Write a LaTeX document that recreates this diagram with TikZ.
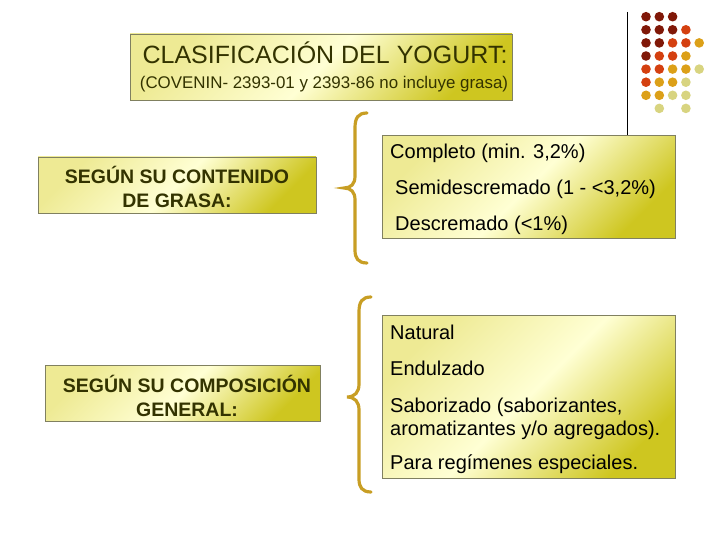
\documentclass[tikz,border=0pt]{standalone}
\usepackage{fontspec}
\setmainfont{Liberation Sans}
\usepackage{tikz}
\tikzset{>=latex}
\usetikzlibrary{positioning}

\definecolor{olivetext}{RGB}{51,51,0}
\definecolor{boxline}{RGB}{128,128,96}
\definecolor{boxlight}{RGB}{255,255,212}
\definecolor{boxedge}{RGB}{238,234,148}
\definecolor{boxdark}{RGB}{206,198,32}
\definecolor{bracegold}{RGB}{200,158,36}
\definecolor{dred}{RGB}{128,24,8}
\definecolor{ored}{RGB}{212,64,16}
\definecolor{dgold}{RGB}{220,160,24}
\definecolor{pale}{RGB}{216,212,128}

\tikzset{
  box/.style={draw=boxline, line width=0.8pt, inner sep=0pt,
    top color=boxedge, bottom color=boxdark, middle color=boxlight, shading angle=45},
  head/.style={font=\fontsize{19.5}{23.5}\selectfont\bfseries, text=olivetext, align=center, inner sep=0pt},
  item/.style={font=\fontsize{20}{23}\selectfont, anchor=base west, inner sep=0pt, align=left},
  brace/.style={draw=bracegold, line width=3.2pt, line cap=round},
}

\begin{document}
\begin{tikzpicture}[x=1pt, y=-1pt]
    \useasboundingbox (0,0) rectangle (720,540);

    % Title
    \node[box, minimum width=382, minimum height=66] (title) at (321,67) {};
    \node[font=\fontsize{25}{28}\selectfont, text=olivetext, inner sep=0pt] (titletext) at (325,53) {CLASIFICACIÓN DEL YOGURT:};
    \node[font=\fontsize{16.9}{19}\selectfont, text=olivetext, inner sep=0pt] (subtitle) at (324,84) {(COVENIN- 2393-01 y 2393-86 no incluye grasa)};

    % Left boxes
    \node[box, minimum width=278, minimum height=56] (fat) at (177,185) {};
    \node[head] (fattext) at (177,187) {SEGÚN SU CONTENIDO\\DE GRASA:};
    \node[box, minimum width=275, minimum height=56] (comp) at (182.5,393) {};
    \node[head] (comptext) at (187,396) {SEGÚN SU COMPOSICIÓN\\GENERAL:};

    % Right boxes
    \node[box, minimum width=293, minimum height=103] (fatlist) at (528.5,187) {};
    \node[item] (completo) at (390,159) {Completo (min. 3,2\%)};
    \node[item] (semi) at (395,195) {Semidescremado (1 - <3,2\%)};
    \node[item] (descremado) at (395,230) {Descremado (<1\%)};

    \node[box, minimum width=293, minimum height=163] (complist) at (528.5,396.5) {};
    \node[item] (natural) at (390,339) {Natural};
    \node[item] (endulzado) at (390,375) {Endulzado};
    \node[item] (saborizado) at (390,435) {Saborizado (saborizantes,\\aromatizantes y/o agregados).};
    \node[item] (regimenes) at (390,469) {Para regímenes especiales.};

    % Braces
    \draw[brace] (367,113) .. controls (358,113) and (355,118) .. (355,128) -- (355,176)
        .. controls (355,184) and (351,188) .. (344,188)
        .. controls (351,188) and (355,192) .. (355,200) -- (355,250)
        .. controls (355,258) and (358,263) .. (367,263);
    \draw[brace] (371,297) .. controls (362,297) and (359,302) .. (359,312) -- (359,384)
        .. controls (359,392) and (355,397) .. (347,397)
        .. controls (355,397) and (359,402) .. (359,410) -- (359,479)
        .. controls (359,487) and (362,492) .. (371,492);

    % Vertical rule
    \coordinate (ruletop) at (627,12);
    \draw[line width=0.9pt] (ruletop) -- (ruletop |- fatlist.north);

    % Dots
    \foreach \row/\cols in {0/{dred,dred,dred},
                            1/{dred,dred,dred,ored},
                            2/{dred,dred,ored,ored,dgold},
                            3/{dred,ored,ored,dgold},
                            4/{ored,ored,dgold,dgold,pale},
                            5/{ored,dgold,dgold,pale},
                            6/{dgold,dgold,pale,pale}}{
        \foreach \c [count=\i from 0] in \cols{
            \fill[\c] (646+13.3*\i, 16.7+13.1*\row) circle[radius=4.8];
        }
    }
    \fill[pale] (659.3,108.4) circle[radius=4.8];
    \fill[pale] (685.9,108.4) circle[radius=4.8];

\end{tikzpicture}
\end{document}
